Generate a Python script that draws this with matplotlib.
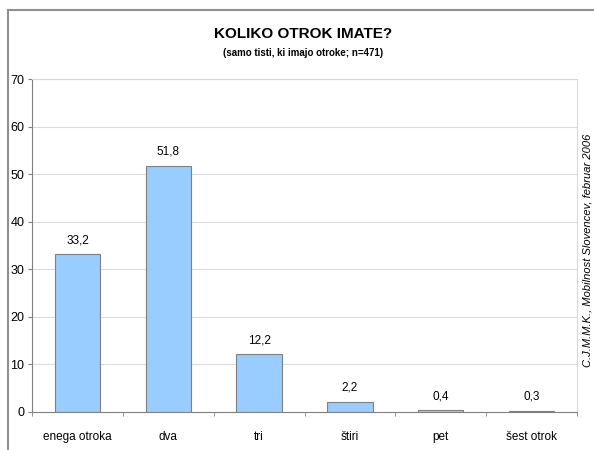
import matplotlib.pyplot as plt
from matplotlib.lines import Line2D

# data
categories = ['enega otroka', 'dva', 'tri', 'štiri', 'pet', 'šest otrok']
values = [33.2, 51.8, 12.2, 2.2, 0.4, 0.3]
labels = ['33,2', '51,8', '12,2', '2,2', '0,4', '0,3']
y_ticks = [0, 10, 20, 30, 40, 50, 60, 70]

plt.rcParams['font.family'] = ['Liberation Sans Narrow', 'Liberation Sans', 'DejaVu Sans']

fig = plt.figure(figsize=(5.94, 4.5), dpi=100)
fig.patch.set_facecolor('white')

# chart-area frame (cut off at right and bottom)
fig.add_artist(Line2D([8 / 594, 8 / 594], [0, 1 - 10 / 450], transform=fig.transFigure,
                      color='#909090', linewidth=1.5))
fig.add_artist(Line2D([8 / 594, 1], [1 - 10 / 450, 1 - 10 / 450], transform=fig.transFigure,
                      color='#909090', linewidth=1.5))

ax = fig.add_axes([32 / 594, 38 / 450, 545 / 594, 333 / 450])
x = range(len(categories))
ax.bar(x, values, width=0.5, color='#99CCFF', edgecolor='#808080', linewidth=0.8, zorder=3)

for xi, v, lab in zip(x, values, labels):
    ax.text(xi, v + 1.6, lab, ha='center', va='bottom', fontsize=8.5, color='black')

ax.set_xlim(-0.5, len(categories) - 0.5)
ax.set_ylim(0, 70)
ax.set_yticks(y_ticks)
ax.set_yticklabels([str(t) for t in y_ticks], fontsize=9)
ax.set_xticks(list(x))
ax.set_xticklabels(categories, fontsize=8.5)
ax.set_xticks([i - 0.5 for i in range(len(categories) + 1)], minor=True)
ax.tick_params(axis='x', which='major', length=0, pad=14)
ax.tick_params(axis='x', which='minor', length=3, color='#808080', direction='out')
ax.tick_params(axis='y', length=3, color='#808080', direction='out', pad=2.5)

ax.grid(axis='y', color='#dcdcdc', linewidth=0.8, zorder=0)
for side in ['top', 'right']:
    ax.spines[side].set_color('#d8d8d8')
for side in ['left', 'bottom']:
    ax.spines[side].set_color('#808080')

fig.text(303 / 594, 1 - 34 / 450, 'KOLIKO OTROK IMATE?', ha='center', va='center',
         fontsize=11, fontweight='bold')
fig.text(303 / 594, 1 - 53 / 450, '(samo tisti, ki imajo otroke; n=471)', ha='center',
         va='center', fontsize=7, fontweight='bold')

fig.text(588 / 594, 1 - 250 / 450, 'C.J.M.M.K., Mobilnost Slovencev, februar 2006',
         rotation=90, ha='center', va='center', fontsize=8, style='italic')

fig.savefig('out.png', dpi=100, facecolor='white')
